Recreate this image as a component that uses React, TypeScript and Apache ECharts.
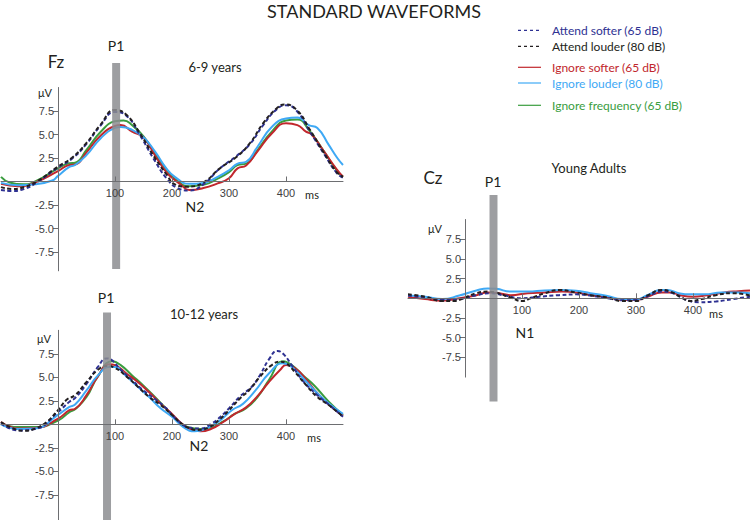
import React, { useEffect, useRef } from "react";
import * as echarts from "echarts";

// ---------- DATA ----------
const SERIES_NAMES = [
  "Attend softer (65 dB)",
  "Attend louder (80 dB)",
  "Ignore softer (65 dB)",
  "Ignore louder (80 dB)",
  "Ignore frequency (65 dB)",
];

const X_MIN = -100;
const X_MAX = 500;
const X_TICKS = [100, 200, 300, 400];
const Y_TICKS = [-7.5, -5, -2.5, 2.5, 5, 7.5];

// Fz, 6-9 years  [ms, µV]
const fz69AttendSofter = [[-100,-0.9],[-80,-1.0],[-60,-0.8],[-37,-0.1],[0,1.5],[24,2.4],[50,4.0],[74,5.9],[100,7.4],[120,7.0],[144,4.9],[167,2.5],[191,0.3],[210,-0.7],[230,-0.95],[255,-0.3],[284,1.4],[313,2.7],[337,4.0],[360,6.0],[384,7.7],[400,8.1],[419,7.5],[442,5.3],[465,3.1],[489,0.9],[500,0.4]];
const fz69AttendLouder = [[-100,-0.6],[-80,-0.8],[-60,-0.6],[-37,0.0],[0,1.6],[24,2.5],[50,4.1],[74,6.0],[100,7.6],[120,7.1],[144,5.1],[167,2.8],[191,0.7],[205,-0.3],[226,-0.55],[255,-0.1],[284,1.4],[313,2.6],[337,4.1],[360,6.2],[384,7.8],[398,8.2],[419,7.6],[442,5.5],[465,3.2],[489,1.0],[500,0.5]];
const fz69IgnoreSofter = [[-100,-0.25],[-70,-0.5],[-40,-0.1],[0,1.1],[20,1.75],[30,1.8],[50,3.1],[75,4.9],[100,5.9],[110,6.0],[130,5.3],[150,4.7],[170,2.8],[190,1.0],[205,0.15],[215,-0.3],[230,-0.9],[255,-0.7],[280,-0.2],[300,0.35],[315,1.4],[330,1.7],[350,3.2],[375,5.1],[400,6.2],[420,6.0],[435,5.3],[445,5.0],[465,3.35],[490,1.2],[500,0.5]];
const fz69IgnoreLouder = [[-100,-0.15],[-70,-0.4],[-40,-0.3],[-10,0.1],[0,0.6],[20,1.55],[30,1.75],[50,2.8],[75,4.6],[100,5.7],[110,5.8],[130,5.5],[150,4.7],[170,3.2],[190,1.4],[205,0.5],[230,-0.25],[255,-0.15],[280,0.5],[300,1.2],[315,1.9],[330,2.1],[350,3.7],[375,5.8],[400,6.7],[420,6.8],[440,6.0],[455,5.7],[475,3.9],[490,2.5],[500,1.75]];
const fz69IgnoreFreq = [[-100,0.5],[-85,-0.1],[-60,-0.3],[-40,0.0],[0,1.4],[20,1.95],[30,2.0],[50,3.35],[75,5.3],[100,6.4],[115,6.5],[130,6.0],[150,4.8],[170,3.0],[190,1.3],[205,0.3],[230,-0.5],[255,-0.35],[280,0.3],[300,1.0],[315,1.75],[330,1.9],[350,3.35],[375,5.3],[400,6.5],[420,6.6],[440,5.5],[465,3.35],[490,1.1],[500,0.5]];

// Fz, 10-12 years
const fz1012AttendSofter = [[-100,0.1],[-70,-0.65],[-40,-0.5],[0,1.3],[20,2.4],[30,2.8],[50,4.3],[70,6.1],[85,7.0],[95,6.8],[110,5.8],[130,4.7],[150,3.6],[170,2.7],[190,1.7],[200,1.0],[215,0.15],[230,-0.35],[250,-0.45],[270,0.1],[285,0.8],[300,1.7],[320,3.0],[340,4.0],[355,5.3],[370,6.9],[385,7.8],[395,7.5],[410,6.3],[430,4.6],[455,3.1],[475,2.1],[500,0.8]];
const fz1012AttendLouder = [[-100,0.25],[-80,-0.4],[-60,-0.7],[-40,-0.45],[-20,0.25],[0,1.5],[15,2.6],[30,3.1],[50,4.5],[70,5.8],[85,6.2],[100,6.0],[120,5.1],[140,4.0],[160,2.9],[180,2.05],[200,1.0],[215,0.15],[230,-0.4],[245,-0.6],[265,-0.3],[285,0.6],[300,1.5],[320,2.8],[335,3.6],[355,5.1],[375,6.3],[390,6.65],[400,6.5],[415,5.6],[435,4.2],[455,2.9],[475,2.05],[500,0.8]];
const fz1012IgnoreSofter = [[-100,0.25],[-70,-0.45],[-40,-0.4],[0,0.6],[20,1.5],[30,1.65],[50,3.1],[70,5.1],[90,6.4],[100,6.3],[120,5.4],[140,4.5],[160,3.4],[180,2.2],[200,1.1],[215,0.2],[230,-0.45],[250,-0.75],[270,-0.45],[290,0.25],[310,1.1],[330,1.8],[350,3.0],[370,4.5],[390,5.8],[400,6.3],[415,6.0],[435,4.8],[455,3.3],[475,2.1],[500,0.9]];
const fz1012IgnoreLouder = [[-100,0.0],[-70,-0.5],[-40,-0.45],[0,1.0],[20,1.85],[30,2.1],[50,3.6],[70,5.2],[90,6.1],[100,6.1],[120,5.1],[140,4.0],[160,2.9],[180,1.7],[200,0.8],[220,-0.3],[240,-0.75],[260,-0.45],[285,0.45],[305,1.5],[325,2.2],[345,3.5],[370,5.4],[395,6.5],[410,6.1],[430,4.9],[455,3.3],[475,2.2],[500,1.1]];
const fz1012IgnoreFreq = [[-100,0.1],[-70,-0.3],[-40,-0.3],[0,0.4],[20,1.3],[30,1.6],[50,2.9],[70,5.1],[95,6.7],[110,6.3],[130,5.2],[150,4.1],[170,2.9],[190,1.65],[210,0.4],[230,-0.35],[250,-0.5],[270,-0.3],[290,0.3],[310,1.1],[330,1.7],[350,2.9],[370,4.7],[395,6.7],[410,6.3],[430,5.2],[450,4.1],[475,2.4],[500,1.0]];

// Cz, young adults
const czAdultAttendSofter = [[-100,0.35],[-70,0.1],[-40,-0.2],[-10,-0.1],[20,0.4],[45,0.65],[70,0.35],[100,0.0],[130,0.2],[165,0.4],[195,0.5],[220,0.35],[250,0.0],[280,-0.25],[300,-0.2],[325,0.4],[345,0.85],[365,0.65],[385,-0.1],[410,-0.5],[440,-0.4],[470,-0.1],[500,0.2]];
const czAdultAttendLouder = [[-100,0.5],[-70,0.2],[-40,-0.35],[-20,-0.35],[0,0.1],[20,0.65],[40,0.85],[55,0.7],[80,0.1],[100,-0.35],[115,0.0],[140,0.65],[165,1.05],[195,0.75],[220,0.4],[250,0.1],[275,-0.35],[300,-0.35],[320,0.35],[345,1.05],[360,0.85],[380,0.1],[395,-0.35],[415,-0.1],[440,0.4],[470,0.65],[500,0.35]];
const czAdultIgnoreSofter = [[-100,0.2],[-70,-0.1],[-40,-0.3],[-10,0.0],[20,0.4],[40,0.75],[60,0.65],[80,0.4],[110,0.65],[140,0.75],[170,0.85],[195,0.75],[220,0.4],[250,0.15],[275,-0.2],[300,-0.2],[320,0.2],[345,0.75],[360,0.75],[380,0.35],[400,0.2],[425,0.4],[455,0.75],[480,0.9],[500,1.0]];
const czAdultIgnoreLouder = [[-100,0.35],[-70,0.2],[-40,-0.1],[-10,0.35],[20,1.0],[40,1.25],[55,1.2],[80,0.85],[110,0.85],[140,1.0],[170,1.05],[195,0.95],[220,0.65],[250,0.3],[275,-0.1],[300,-0.15],[320,0.4],[345,1.05],[355,1.05],[375,0.65],[395,0.5],[420,0.5],[450,0.75],[480,0.75],[500,0.65]];

// P1 marker bars: latency (ms), width (ms), top and bottom (µV)
const P1_LATENCY = [102, 86, 50];
const P1_WIDTH = [14, 14, 14];
const P1_TOP = [12.6, 11.9, 13.1];
const P1_BOTTOM = [-9.3, -10.8, -13.1];

// ---------- STYLE / LAYOUT ----------
const COLORS = ["#2e3192", "#231f20", "#c1272d", "#3fa9f5", "#3a9d3f"];
const DASHED = [true, true, false, false, false];
const DRAW_ORDER = [4, 2, 3, 0, 1];
const AXIS_COLOR = "#6d6e71";
const TEXT_COLOR = "#231f20";

const PANELS = [
  { grid: { left: 1, top: 87.5, width: 342, height: 183.3 }, yMin: -9.5, yMax: 10, data: [fz69AttendSofter, fz69AttendLouder, fz69IgnoreSofter, fz69IgnoreLouder, fz69IgnoreFreq] },
  { grid: { left: 1, top: 330.3, width: 342, height: 192.7 }, yMin: -10.5, yMax: 10, data: [fz1012AttendSofter, fz1012AttendLouder, fz1012IgnoreSofter, fz1012IgnoreLouder, fz1012IgnoreFreq] },
  { grid: { left: 408, top: 219.5, width: 342, height: 157.6 }, yMin: -10, yMax: 10, data: [czAdultAttendSofter, czAdultAttendLouder, czAdultIgnoreSofter, czAdultIgnoreLouder, null] },
];

const FONT = "Lato, 'Open Sans', sans-serif";
const TICK_FONT = "'Liberation Sans', Arial, sans-serif";

function txt(text: string, x: number, y: number, size: number, opts: any = {}) {
  return {
    type: "text",
    z: 100,
    style: {
      text,
      x,
      y,
      font: `${size}px ${opts.family || FONT}`,
      fill: opts.color || TEXT_COLOR,
      align: opts.align || "center",
      textAlign: opts.align || "center",
      verticalAlign: "middle",
      textVerticalAlign: "middle",
    },
  };
}

export default function App() {
  const ref = useRef<HTMLDivElement>(null);

  useEffect(() => {
    if (!ref.current) return;
    const chart = echarts.init(ref.current, null, { renderer: "svg" });

    const grids: any[] = [];
    const xAxes: any[] = [];
    const yAxes: any[] = [];
    const series: any[] = [];

    PANELS.forEach((p, i) => {
      grids.push({ ...p.grid, containLabel: false, outerBoundsMode: "none" });
      // place each axis through the other axis's zero (labels follow the line)
      const yOffset = -(p.grid.width * (0 - X_MIN)) / (X_MAX - X_MIN);
      const xOffset = -(p.grid.height * (0 - p.yMin)) / (p.yMax - p.yMin);
      xAxes.push({
        type: "value",
        gridIndex: i,
        min: X_MIN,
        max: X_MAX,
        position: "bottom",
        offset: xOffset,
        z: 8,
        axisLine: { show: true, onZero: false, lineStyle: { color: AXIS_COLOR, width: 1 } },
        axisTick: { show: true, inside: true, length: 5, customValues: X_TICKS, lineStyle: { color: AXIS_COLOR } },
        axisLabel: { show: true, customValues: X_TICKS, margin: 6, fontSize: 11, color: "#414042", fontFamily: TICK_FONT },
        splitLine: { show: false },
      });
      yAxes.push({
        type: "value",
        gridIndex: i,
        min: p.yMin,
        max: p.yMax,
        position: "left",
        offset: yOffset,
        z: 8,
        axisLine: { show: true, onZero: false, lineStyle: { color: AXIS_COLOR, width: 1 } },
        axisTick: { show: true, length: 5, customValues: Y_TICKS, lineStyle: { color: AXIS_COLOR } },
        axisLabel: {
          show: true,
          customValues: Y_TICKS,
          margin: 4,
          fontSize: 11,
          color: "#414042",
          fontFamily: TICK_FONT,
          formatter: (v: number) => v.toFixed(1),
        },
        splitLine: { show: false },
      });

      DRAW_ORDER.forEach((k) => {
        const d = p.data[k];
        if (!d) return;
        series.push({
          type: "line",
          name: SERIES_NAMES[k],
          xAxisIndex: i,
          yAxisIndex: i,
          data: d,
          smooth: 0.5,
          symbol: "none",
          z: 3,
          lineStyle: {
            color: COLORS[k],
            width: 2,
            type: DASHED[k] ? [4, 2.5] : "solid",
          },
        });
      });

      series.push({
        type: "custom",
        name: "P1",
        xAxisIndex: i,
        yAxisIndex: i,
        clip: false,
        z: 5,
        data: [[P1_LATENCY[i], P1_WIDTH[i], P1_TOP[i], P1_BOTTOM[i]]],
        renderItem: (params: any, api: any) => {
          const c = api.value(0);
          const w = api.value(1);
          const a = api.coord([c - w / 2, api.value(2)]);
          const b = api.coord([c + w / 2, api.value(3)]);
          return {
            type: "rect",
            shape: { x: a[0], y: a[1], width: b[0] - a[0], height: b[1] - a[1] },
            style: { fill: "#8c8d90", opacity: 0.85 },
          };
        },
      });
    });

    // legend drawn as graphic items, built from the series arrays
    const legendRows = [30.3, 46.3, 67.3, 83, 105.3];
    const legendItems: any[] = [];
    SERIES_NAMES.forEach((name, k) => {
      legendItems.push({
        type: "line",
        z: 100,
        shape: { x1: 518, y1: legendRows[k], x2: 541, y2: legendRows[k] },
        style: { stroke: COLORS[k], lineWidth: 1.2, lineDash: DASHED[k] ? [3, 3] : null },
      });
      legendItems.push(txt(name, 552, legendRows[k], 12, { align: "left", color: COLORS[k] }));
    });

    const annotations = [
      txt("STANDARD WAVEFORMS", 374, 11, 18),
      // panel 1
      txt("Fz", 56, 61, 17),
      txt("P1", 116, 45, 14),
      txt("6-9 years", 215, 67, 13),
      txt("N2", 195, 206, 14),
      txt("ms", 312, 194, 11),
      txt("μV", 45, 92, 11),
      // panel 2
      txt("P1", 106, 297, 14),
      txt("10-12 years", 204, 314, 13),
      txt("N2", 199, 445, 14),
      txt("ms", 314, 437, 11),
      txt("μV", 44, 338, 11),
      // panel 3
      txt("Cz", 433, 177, 17),
      txt("P1", 493, 181, 14),
      txt("Young Adults", 589, 168, 13),
      txt("N1", 525, 332, 14),
      txt("ms", 716, 313, 11),
      txt("μV", 435, 228, 11),
    ];

    chart.setOption({
      animation: false,
      backgroundColor: "#ffffff",
      grid: grids,
      xAxis: xAxes,
      yAxis: yAxes,
      series,
      graphic: { elements: [...annotations, ...legendItems] },
    });

    return () => chart.dispose();
  }, []);

  return (
    <div
      ref={ref}
      style={{ position: "fixed", left: 0, top: 0, width: 750, height: 520, background: "#fff" }}
    />
  );
}
